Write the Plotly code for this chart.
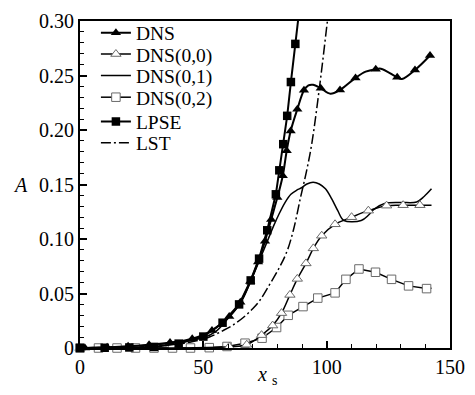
import plotly.graph_objects as go

# Streamwise position x_s and amplitude A of each series
dns_x = [2, 11, 19.5, 28, 36.5, 45.5, 53.5, 60.5, 65, 69, 72.2, 75, 77.5, 80, 82.2,
         83.8, 85.4, 88.1, 90.8, 97.6, 105.4, 111.7, 119.9, 128.6, 135.8, 141.9]
dns_y = [0.0, 0.0008, 0.0015, 0.003, 0.005, 0.0085, 0.016, 0.029, 0.042, 0.061, 0.079,
         0.098, 0.118, 0.138, 0.158, 0.181, 0.199, 0.219, 0.2365, 0.2383, 0.2368,
         0.2478, 0.2558, 0.2483, 0.2551, 0.2684]
# additional DNS samples between the symbols
dns_fine_x = [0, 92.6, 94.5, 101.5, 115.8, 122.0, 130.5]
dns_fine_y = [0.0, 0.2410, 0.2415, 0.2333, 0.2535, 0.2562, 0.2468]

dns00_x = [0, 60.5, 67.6, 73.6, 78.1, 81.7, 85.1, 88.1, 91.6, 94.6, 98, 103.4, 110.1,
           116.9, 124.3, 131, 137.8]
dns00_y = [0.0, 0.0012, 0.003, 0.0118, 0.0206, 0.032, 0.0487, 0.0634, 0.0776, 0.0914,
           0.103, 0.1135, 0.120, 0.126, 0.1306, 0.131, 0.131]
dns00_end_x = [142.5]
dns00_end_y = [0.131]

dns01_x = [0, 20, 30, 40, 50, 55, 60, 65, 69, 72.5, 74.5, 76.5, 78.5, 80.5, 83, 85.5,
           88, 89.8, 92, 94.5, 97, 99.5, 102, 104.5, 107, 114, 117, 119, 123.5, 130,
           136.5, 139.5, 142.5]
dns01_y = [0.0, 0.0015, 0.003, 0.005, 0.0095, 0.015, 0.027, 0.041, 0.060, 0.079, 0.090,
           0.101, 0.112, 0.122, 0.133, 0.141, 0.145, 0.147, 0.1505, 0.152, 0.1505, 0.146,
           0.137, 0.126, 0.117, 0.117, 0.122, 0.127, 0.1325, 0.1335, 0.134, 0.139, 0.146]

dns02_x = [0, 7.5, 15, 22.5, 30, 37.5, 44.8, 52.4, 59.6, 66.9, 73.8, 79.7, 84.4, 90.4,
           96.4, 103.4, 107.8, 113.1, 119.8, 126.3, 133.2, 140.5]
dns02_y = [0.0, 0.0, 0.0, 0.0, 0.0, 0.0, 0.0, 0.0003, 0.0014, 0.0044, 0.009, 0.0188,
           0.030, 0.038, 0.0458, 0.0506, 0.063, 0.0725, 0.0695, 0.063, 0.057, 0.0545]
dns02_end_x = [142.5]
dns02_end_y = [0.0548]

lpse_x = [0, 10, 20, 30, 40, 50, 57.8, 64.5, 69.2, 72.6, 75.9, 79.4, 80.8, 82.4, 84.0,
          85.5, 87.3, 89.0]
lpse_y = [0.0, 0.0002, 0.0005, 0.001, 0.004, 0.0105, 0.0232, 0.040, 0.062, 0.082,
          0.108, 0.141, 0.163, 0.187, 0.213, 0.244, 0.279, 0.312]

lst_x = [0, 20, 30, 40, 48.6, 52.7, 58, 62, 66.2, 70, 73, 76, 80.4, 83.8, 86.5, 89.4,
         91.9, 94, 97.3, 100.3, 100.9]
lst_y = [0.0, 0.0007, 0.0015, 0.0035, 0.0073, 0.0103, 0.016, 0.021, 0.028, 0.036, 0.044,
         0.055, 0.072, 0.088, 0.108, 0.138, 0.163, 0.188, 0.243, 0.300, 0.311]

x_ticks = [0, 50, 100, 150]
y_ticks = [0, 0.05, 0.10, 0.15, 0.20, 0.25, 0.30]
y_tick_text = ["0", "0.05", "0.10", "0.15", "0.20", "0.25", "0.30"]

Y_MAX = 0.30
SERIF = "Liberation Serif"
GREY = "#6a6a6a"

series_style = {
    "DNS": dict(line=dict(color="black", width=2),
                marker=dict(symbol="triangle-up", size=9, color="black")),
    "DNS(0,0)": dict(line=dict(color="black", width=1.5),
                     marker=dict(symbol="triangle-up", size=9, color="white",
                                 line=dict(color=GREY, width=1))),
    "DNS(0,1)": dict(line=dict(color="black", width=1.5), marker=None),
    "DNS(0,2)": dict(line=dict(color="black", width=1.5),
                     marker=dict(symbol="square", size=8.5, color="white",
                                 line=dict(color=GREY, width=1))),
    "LPSE": dict(line=dict(color="black", width=2),
                 marker=dict(symbol="square", size=8.5, color="black")),
    "LST": dict(line=dict(color="black", width=1.5, dash="10px,3px,2px,3px"), marker=None),
}
# vertical position (paper units) of each legend row
legend_rows = [0.963, 0.898, 0.832, 0.766, 0.692, 0.627]


def merged(xa, ya, xb, yb):
    pts = sorted(zip(list(xa) + list(xb), list(ya) + list(yb)))
    return [p[0] for p in pts], [p[1] for p in pts]


def in_range(xs, ys):
    pts = [(a, b) for a, b in zip(xs, ys) if b <= Y_MAX]
    return [p[0] for p in pts], [p[1] for p in pts]


fig = go.Figure()


def add_series(name, line_x, line_y, mark_x=None, mark_y=None, shape="spline"):
    st = series_style[name]
    fig.add_trace(go.Scatter(x=line_x, y=line_y, mode="lines", line=st["line"],
                             line_shape=shape, showlegend=False, hoverinfo="skip"))
    if st["marker"] is not None and mark_x is not None:
        mx, my = in_range(mark_x, mark_y)
        fig.add_trace(go.Scatter(x=mx, y=my, mode="markers", marker=st["marker"],
                                 cliponaxis=False, showlegend=False))


add_series("LST", lst_x, lst_y)
add_series("DNS(0,1)", dns01_x, dns01_y)
x02, y02 = merged(dns02_x, dns02_y, dns02_end_x, dns02_end_y)
add_series("DNS(0,2)", x02, y02, dns02_x, dns02_y, shape="linear")
x00, y00 = merged(dns00_x, dns00_y, dns00_end_x, dns00_end_y)
add_series("DNS(0,0)", x00, y00, dns00_x, dns00_y)
add_series("LPSE", lpse_x, lpse_y, lpse_x, lpse_y, shape="linear")
xd, yd = merged(dns_x, dns_y, dns_fine_x, dns_fine_y)
add_series("DNS", xd, yd, dns_x, dns_y)

# one legend per row so the rows can sit close together
legend_layout = {}
for i, (name, ly) in enumerate(zip(series_style, legend_rows)):
    lid = "legend" if i == 0 else f"legend{i + 1}"
    st = series_style[name]
    kw = dict(x=[None], y=[None], name=name, legend=lid, showlegend=True,
              line=st["line"])
    if st["marker"] is not None:
        kw.update(mode="lines+markers", marker=st["marker"])
    else:
        kw.update(mode="lines")
    fig.add_trace(go.Scatter(**kw))
    legend_layout[lid] = dict(x=0.043, y=ly, xanchor="left", yanchor="middle",
                              bgcolor="rgba(0,0,0,0)", borderwidth=0,
                              font=dict(family=SERIF, size=19.5, color="black"))

axis_common = dict(showline=True, linecolor="black", linewidth=2, mirror=True,
                   showgrid=False, zeroline=False, ticks="inside", ticklen=7,
                   tickwidth=1.5, tickcolor="black",
                   tickfont=dict(family=SERIF, size=20, color="black"))

fig.update_layout(
    width=475, height=395,
    margin=dict(l=80, r=25, t=10, b=47),
    paper_bgcolor="white", plot_bgcolor="white",
    font=dict(family=SERIF, size=20, color="black"),
    xaxis=dict(range=[0, 150], tickmode="array", tickvals=x_ticks,
               ticktext=[str(v) for v in x_ticks],
               minor=dict(dtick=10, tick0=0, ticks="inside", ticklen=4,
                          tickwidth=1, tickcolor="black", showgrid=False),
               **axis_common),
    yaxis=dict(range=[0, Y_MAX], tickmode="array", tickvals=y_ticks,
               ticktext=y_tick_text,
               minor=dict(dtick=0.01, tick0=0, ticks="inside", ticklen=4,
                          tickwidth=1, tickcolor="black", showgrid=False),
               **axis_common),
    annotations=[
        dict(text="<i>A</i>", xref="paper", yref="paper", x=-0.162, y=0.497,
             xanchor="center", yanchor="middle", showarrow=False,
             font=dict(family=SERIF, size=20, color="black")),
        dict(text="<i>x</i> <sub>s</sub>", xref="paper", yref="paper", x=0.505,
             y=-0.085, xanchor="center", yanchor="middle", showarrow=False,
             font=dict(family=SERIF, size=20, color="black")),
    ],
    **legend_layout,
)

fig.write_html("out.html")
